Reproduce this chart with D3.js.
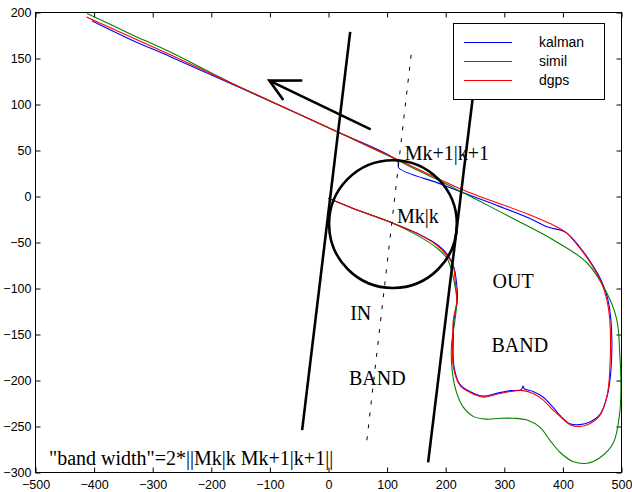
<!DOCTYPE html>
<html>
<head>
<meta charset="utf-8">
<script src="https://cdn.jsdelivr.net/npm/d3@7"></script>
<style>
  html, body { margin: 0; padding: 0; background: #fff; }
  svg { display: block; }
</style>
</head>
<body>
<svg id="chart" width="632" height="492"></svg>
<script>
// ---------------- data ----------------
const xTicks = [-500, -400, -300, -200, -100, 0, 100, 200, 300, 400, 500];
const yTicks = [-300, -250, -200, -150, -100, -50, 0, 50, 100, 150, 200];
const seriesNames = ["kalman", "simil", "dgps"];

const kalman = [
  [-404,191],[-339,171],[-270,152],[-168,123],[-1,75],[118,38],[120,31],[190,14],[230,4],[293,-11],
  [344,-24],[373,-33],[405,-39],[430,-56],[450,-74],[466,-92],[476,-110],[482,-134],[482,-189],[475,-218],
  [463,-237],[446,-245],[429,-248],[412,-247],[395,-238],[383,-229],[366,-218],[349,-212],[334,-209],
  [332,-206],[329,-210],[310,-211],[287,-214],[264,-217],[241,-212],[224,-204],[214,-184],[213,-153],
  [214,-134],[220,-112],[218,-91],[214,-77],[204,-64],[187,-53],[151,-40],[110,-29],[42,-13],[0,-2]
];
const simil = [
  [-412,199],[-339,177],[-270,157],[-168,124],[-1,75],[119,39],[144,31],[190,17],[230,4],[276,-11],
  [315,-24],[383,-47],[441,-72],[475,-105],[492,-134],[497,-170],[499,-210],[497,-235],[486,-268],
  [463,-284],[441,-290],[417,-288],[395,-278],[378,-265],[361,-251],[339,-243],[315,-241],[293,-241],
  [270,-242],[247,-239],[230,-229],[219,-214],[211,-189],[210,-161],[216,-134],[219,-113],[216,-98],
  [210,-80],[202,-67],[185,-56],[151,-42],[110,-29],[42,-13],[-1,-2]
];
const dgps = [
  [-413,195],[-270,154],[-134,114],[-1,75],[119,40],[230,7],[344,-20],[380,-30],[405,-39],[430,-57],
  [451,-76],[466,-94],[475,-112],[480,-134],[480,-189],[475,-218],[463,-238],[446,-247],[429,-250],
  [412,-248],[395,-239],[383,-232],[366,-221],[349,-214],[332,-211],[310,-212],[287,-215],[264,-218],
  [242,-213],[224,-205],[213,-185],[212,-152],[213,-134],[219,-113],[216,-91],[213,-76],[202,-64],
  [185,-53],[151,-40],[110,-29],[42,-13],[0,-2]
];

// annotations (data coordinates)
const bandLeft = [[37,179],[-45,-254]];
const bandRight = [[253,143],[170,-289]];
const midLine = [[141,154],[64,-273]];
const arrowLine = [[72,73],[-101,126]];
const circleCenter = [110,-30];
const circleRadiusX = 109;
const labels = [
  {text:"Mk+1|k+1", x:130, y:40},
  {text:"Mk|k", x:117, y:-29},
  {text:"IN", x:37, y:-134},
  {text:"BAND", x:35, y:-205},
  {text:"OUT", x:280, y:-99},
  {text:"BAND", x:278, y:-169},
  {text:"\"band width\"=2*||Mk|k Mk+1|k+1||", x:-477, y:-292}
];

// ---------------- drawing ----------------
const svg = d3.select("#chart");
const L = 35.5, R = 621.5, T = 12.5, B = 472.5;
const x = d3.scaleLinear().domain([-500, 500]).range([L, R]);
const y = d3.scaleLinear().domain([-300, 200]).range([B, T]);

svg.append("rect").attr("width", 632).attr("height", 492).attr("fill", "#fff");

const defs = svg.append("defs");
defs.append("clipPath").attr("id", "clip")
  .append("rect").attr("x", L).attr("y", T).attr("width", R - L).attr("height", B - T);

// axes (ticks inward on all sides)
const tickFont = "Liberation Sans, Arial, sans-serif";
const axB = d3.axisBottom(x).tickValues(xTicks).tickSizeInner(-5).tickSizeOuter(0).tickPadding(8);
const axT = d3.axisTop(x).tickValues(xTicks).tickSizeInner(-5).tickSizeOuter(0).tickFormat("");
const axL = d3.axisLeft(y).tickValues(yTicks).tickSizeInner(-5).tickSizeOuter(0).tickPadding(4);
const axR = d3.axisRight(y).tickValues(yTicks).tickSizeInner(-5).tickSizeOuter(0).tickFormat("");

function styleAxis(g) {
  g.selectAll("path").remove();
  g.selectAll("line").attr("stroke", "#000");
  g.selectAll("text").attr("font-family", tickFont).attr("font-size", 12.5).attr("fill", "#000");
}
svg.append("g").attr("transform", `translate(0,${B})`).call(axB).call(styleAxis);
svg.append("g").attr("transform", `translate(0,${T})`).call(axT).call(styleAxis);
svg.append("g").attr("transform", `translate(${L},0)`).call(axL).call(styleAxis);
svg.append("g").attr("transform", `translate(${R},0)`).call(axR).call(styleAxis);

svg.append("rect").attr("x", L).attr("y", T).attr("width", R - L).attr("height", B - T)
  .attr("fill", "none").attr("stroke", "#000").attr("stroke-width", 1);

// series
const line = d3.line().x(d => x(d[0])).y(d => y(d[1])).curve(d3.curveCatmullRom.alpha(0.5));
const colors = {kalman: "#0000ff", simil: "#008000", dgps: "#ff0000"};
const dataMap = {kalman, simil, dgps};
const plot = svg.append("g").attr("clip-path", "url(#clip)");
seriesNames.forEach(n => {
  plot.append("path").datum(dataMap[n]).attr("d", line)
    .attr("fill", "none").attr("stroke", colors[n]).attr("stroke-width", 1.1);
});

// annotations
const straight = d3.line().x(d => x(d[0])).y(d => y(d[1]));
[bandLeft, bandRight].forEach(seg => {
  svg.append("path").datum(seg).attr("d", straight)
    .attr("stroke", "#000").attr("stroke-width", 2.6).attr("fill", "none");
});
svg.append("path").datum(midLine).attr("d", straight)
  .attr("stroke", "#000").attr("stroke-width", 1).attr("stroke-dasharray", "4,8").attr("fill", "none");

svg.append("circle")
  .attr("cx", x(circleCenter[0])).attr("cy", y(circleCenter[1]))
  .attr("r", x(circleRadiusX) - x(0))
  .attr("fill", "none").attr("stroke", "#000").attr("stroke-width", 2.6);

// arrow
svg.append("path").datum(arrowLine).attr("d", straight)
  .attr("stroke", "#000").attr("stroke-width", 2.6).attr("fill", "none");
{
  const x0 = x(arrowLine[0][0]), y0 = y(arrowLine[0][1]);
  const x1 = x(arrowLine[1][0]), y1 = y(arrowLine[1][1]);
  const ang = Math.atan2(y0 - y1, x0 - x1);
  const a1 = ang - 0.45, a2 = ang + 0.5;
  const l1 = 33, l2 = 24;
  svg.append("path")
    .attr("d", `M${x1 + l1 * Math.cos(a1)},${y1 + l1 * Math.sin(a1)} L${x1},${y1} L${x1 + l2 * Math.cos(a2)},${y1 + l2 * Math.sin(a2)}`)
    .attr("stroke", "#000").attr("stroke-width", 2.6).attr("fill", "none")
    .attr("stroke-linejoin", "miter");
}

// text labels
svg.selectAll("text.lbl").data(labels).enter().append("text")
  .attr("class", "lbl")
  .attr("x", d => x(d.x)).attr("y", d => y(d.y))
  .attr("font-family", "Liberation Serif, Times New Roman, serif")
  .attr("font-size", 20).attr("fill", "#000")
  .text(d => d.text);

// legend
const lg = svg.append("g");
lg.append("rect").attr("x", 453.5).attr("y", 23.5).attr("width", 151).attr("height", 76)
  .attr("fill", "#fff").attr("stroke", "#000").attr("stroke-width", 1);
seriesNames.forEach((n, i) => {
  const yy = 42.5 + i * 19;
  lg.append("line").attr("x1", 464).attr("x2", 512).attr("y1", yy).attr("y2", yy)
    .attr("stroke", colors[n]).attr("stroke-width", 1);
  lg.append("text").attr("x", 539).attr("y", yy).attr("dy", "0.35em")
    .attr("font-family", tickFont).attr("font-size", 14).attr("fill", "#000").text(n);
});
</script>
</body>
</html>
